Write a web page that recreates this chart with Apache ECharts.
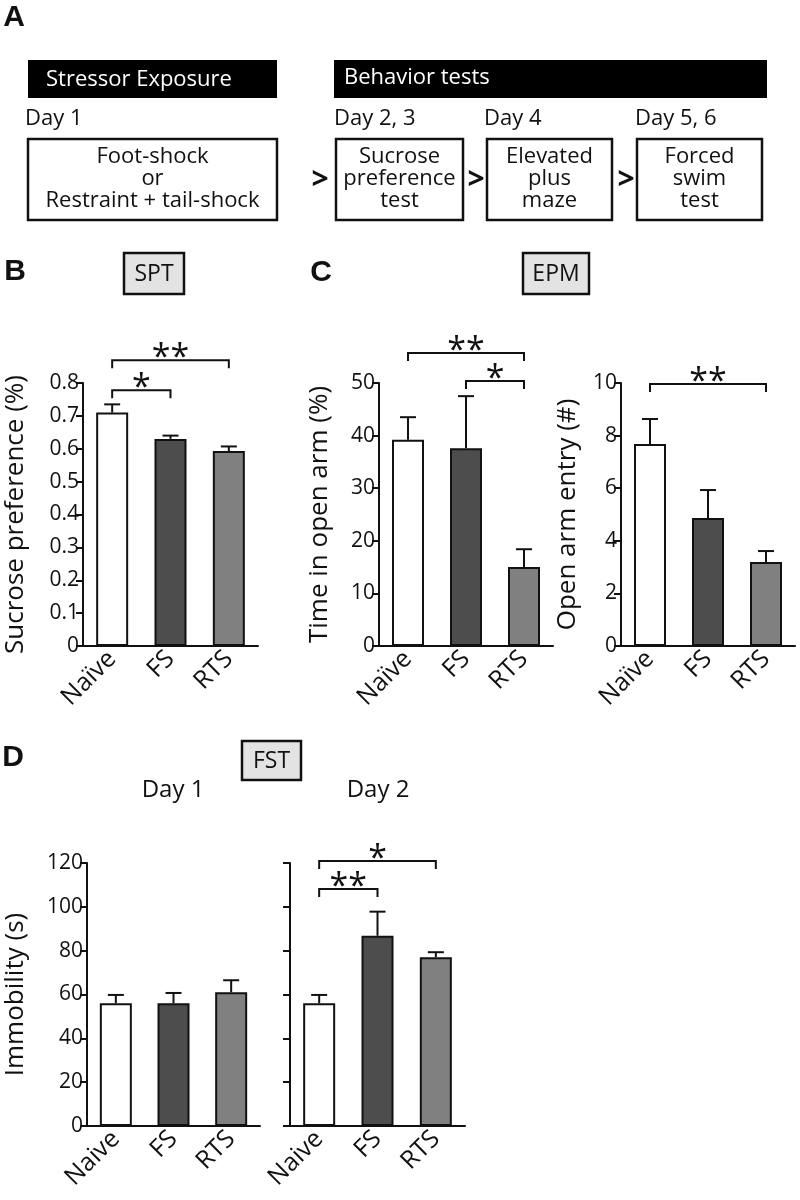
<!DOCTYPE html>
<html><head><meta charset="utf-8">
<script src="https://cdn.jsdelivr.net/npm/echarts@6/dist/echarts.min.js"></script>
<style>html,body{margin:0;padding:0;background:#fff}#c{width:800px;height:1200px}</style>
</head><body><div id="c"></div>
<script>
// ---- data ----
const groupsBC = ['Naïve', 'FS', 'RTS'];
const groupsD = ['Naive', 'FS', 'RTS'];
const barColors = ['#ffffff', '#4d4d4d', '#808080'];

const sptMean = [0.71, 0.63, 0.593];
const sptErr = [0.025, 0.01, 0.014];
const epmTimeMean = [39.2, 37.6, 15.0];
const epmTimeErr = [4.3, 9.9, 3.4];
const epmEntryMean = [7.68, 4.87, 3.19];
const epmEntryErr = [0.95, 1.06, 0.42];
const fstDay1Mean = [56, 56, 61];
const fstDay1Err = [3.8, 4.7, 5.5];
const fstDay2Mean = [56, 86.8, 77.0];
const fstDay2Err = [3.8, 11.0, 2.3];

// significance brackets: [fromIndex, toIndex, level]
const sptBrackets = [[0, 1, 0.778], [0, 2, 0.869]];
const sptStars = ['*', '**'];
const epmTimeBrackets = [[0, 2, 55.7], [1, 2, 50.4]];
const epmTimeStars = ['**', '*'];
const epmEntryBrackets = [[0, 2, 9.96]];
const epmEntryStars = ['**'];
const fstDay2Brackets = [[0, 1, 108.1], [0, 2, 120.9]];
const fstDay2Stars = ['**', '*'];

const FONT = '"Open Sans", Lato, sans-serif';

const grids = [
  {left: 83, top: 383, width: 175, height: 263},
  {left: 379, top: 383, width: 174, height: 263},
  {left: 621, top: 383, width: 174, height: 263},
  {left: 87, top: 863, width: 173, height: 263},
  {left: 290, top: 863, width: 175, height: 263}
];

function xAxis(idx, cats) {
  return {
    type: 'category', gridIndex: idx, data: cats,
    axisLine: {lineStyle: {color: '#111', width: 2}},
    axisTick: {length: 8, lineStyle: {color: '#111', width: 2}},
    axisLabel: {rotate: 45, fontSize: 25, color: '#111', fontFamily: FONT, margin: 9}
  };
}
function yAxis(idx, max, interval, name, gap, showLabels, decimals) {
  return {
    type: 'value', gridIndex: idx, min: 0, max: max, interval: interval,
    name: name, nameLocation: 'middle', nameGap: gap, nameRotate: 90,
    nameTextStyle: {fontSize: 26, color: '#111', fontFamily: FONT},
    axisLine: {show: true, lineStyle: {color: '#111', width: 2}},
    axisTick: {show: true, length: 7, lineStyle: {color: '#111', width: 2}},
    axisLabel: {show: showLabels, fontSize: 21, color: '#111', fontFamily: FONT, margin: 4,
      formatter: v => (v === 0 ? '0' : (decimals ? v.toFixed(decimals) : String(v)))},
    splitLine: {show: false}
  };
}

function barSeries(idx, means) {
  return {
    type: 'bar', xAxisIndex: idx, yAxisIndex: idx, barWidth: 32,
    data: means.map((v, i) => ({value: v, itemStyle: {color: barColors[i], borderColor: '#111', borderWidth: 2}})),
    z: 2, silent: true
  };
}
function errSeries(idx, means, errs) {
  return {
    type: 'custom', xAxisIndex: idx, yAxisIndex: idx, z: 3, silent: true, clip: false,
    encode: {x: 0, y: 1},
    data: means.map((v, i) => [i, v, errs[i]]),
    renderItem: function (params, api) {
      const base = api.coord([api.value(0), api.value(1)]);
      const top = api.coord([api.value(0), api.value(1) + api.value(2)]);
      const st = {stroke: '#111', lineWidth: 2};
      return {type: 'group', children: [
        {type: 'line', shape: {x1: base[0], y1: base[1], x2: top[0], y2: top[1]}, style: st},
        {type: 'line', shape: {x1: top[0] - 8, y1: top[1], x2: top[0] + 8, y2: top[1]}, style: st}
      ]};
    }
  };
}
function bracketSeries(idx, brackets, stars) {
  return {
    type: 'custom', xAxisIndex: idx, yAxisIndex: idx, z: 4, silent: true, clip: false,
    encode: {x: 0, y: 2},
    data: brackets,
    renderItem: function (params, api) {
      const p1 = api.coord([api.value(0), api.value(2)]);
      const p2 = api.coord([api.value(1), api.value(2)]);
      const st = {stroke: '#111', lineWidth: 2, fill: null};
      return {type: 'group', children: [
        {type: 'polyline', shape: {points: [[p1[0], p1[1] + 8], [p1[0], p1[1]], [p2[0], p2[1]], [p2[0], p2[1] + 8]]}, style: st},
        {type: 'text', style: {text: stars[params.dataIndex], x: (p1[0] + p2[0]) / 2, y: p1[1] - 2,
          textAlign: 'center', textVerticalAlign: 'middle', fontSize: 34, fontFamily: FONT, fill: '#111'}}
      ]};
    }
  };
}

// ---- panel A and annotations ----
const g = [];
function txt(t, x, y, opt) {
  g.push(Object.assign({type: 'text', style: Object.assign({text: t, x: x, y: y, fill: '#111',
    fontSize: 22, fontFamily: FONT, textAlign: 'left', textVerticalAlign: 'middle'}, opt || {})}));
}
function rect(x, y, w, h, fill, stroke) {
  g.push({type: 'rect', shape: {x: x, y: y, width: w, height: h},
    style: {fill: fill, stroke: stroke || null, lineWidth: stroke ? 2.5 : 0}});
}
function letter(t, x, y) {
  txt(t, x, y, {fontSize: 30, fontWeight: 'bold', fontFamily: 'Liberation Sans, Arial, sans-serif', textAlign: 'center'});
}
letter('A', 14, 18);
rect(28, 60, 249, 38, '#000');
txt('Stressor Exposure', 46, 80, {fill: '#fff', fontSize: 22});
rect(334, 60, 433, 38, '#000');
txt('Behavior tests', 344, 78, {fill: '#fff', fontSize: 22});
txt('Day 1', 25, 119, {fontSize: 22});
txt('Day 2, 3', 334, 119, {fontSize: 22});
txt('Day 4', 484, 119, {fontSize: 22});
txt('Day 5, 6', 635, 119, {fontSize: 22});
const boxes = [
  [28, 139, 249, 81, ['Foot-shock', 'or', 'Restraint + tail-shock']],
  [336, 139, 127, 81, ['Sucrose', 'preference', 'test']],
  [487, 139, 125, 81, ['Elevated', 'plus', 'maze']],
  [637, 139, 125, 81, ['Forced', 'swim', 'test']]
];
boxes.forEach(b => {
  rect(b[0], b[1], b[2], b[3], '#fff', '#111');
  b[4].forEach((l, i) => txt(l, b[0] + b[2] / 2, 157 + i * 22, {textAlign: 'center', fontSize: 22}));
});
[320, 476, 626].forEach(x => txt('>', x, 180, {textAlign: 'center', fontSize: 30, fontWeight: 'bold'}));

letter('B', 15, 272);
rect(124, 253, 60, 41, '#e3e3e3', '#111');
txt('SPT', 154, 274, {textAlign: 'center', fontSize: 23});
letter('C', 321, 273);
rect(523, 253, 66, 41, '#e3e3e3', '#111');
txt('EPM', 556, 274, {textAlign: 'center', fontSize: 23});
letter('D', 13, 758);
rect(242, 741, 59, 39, '#e3e3e3', '#111');
txt('FST', 271.5, 761, {textAlign: 'center', fontSize: 23});
txt('Day 1', 173, 790, {textAlign: 'center', fontSize: 24});
txt('Day 2', 378, 790, {textAlign: 'center', fontSize: 24});

const option = {
  backgroundColor: '#fff',
  animation: false,
  grid: grids,
  xAxis: [xAxis(0, groupsBC), xAxis(1, groupsBC), xAxis(2, groupsBC), xAxis(3, groupsD), xAxis(4, groupsD)],
  yAxis: [
    yAxis(0, 0.8, 0.1, 'Sucrose preference (%)', 54, true, 1),
    yAxis(1, 50, 10, 'Time in open arm (%)', 46, true, 0),
    yAxis(2, 10, 2, 'Open arm entry (#)', 40, true, 0),
    yAxis(3, 120, 20, 'Immobility (s)', 58, true, 0),
    yAxis(4, 120, 20, '', 10, false, 0)
  ],
  series: [
    barSeries(0, sptMean), errSeries(0, sptMean, sptErr), bracketSeries(0, sptBrackets, sptStars),
    barSeries(1, epmTimeMean), errSeries(1, epmTimeMean, epmTimeErr), bracketSeries(1, epmTimeBrackets, epmTimeStars),
    barSeries(2, epmEntryMean), errSeries(2, epmEntryMean, epmEntryErr), bracketSeries(2, epmEntryBrackets, epmEntryStars),
    barSeries(3, fstDay1Mean), errSeries(3, fstDay1Mean, fstDay1Err),
    barSeries(4, fstDay2Mean), errSeries(4, fstDay2Mean, fstDay2Err), bracketSeries(4, fstDay2Brackets, fstDay2Stars)
  ],
  graphic: g
};
const chart = echarts.init(document.getElementById('c'), null, {renderer: 'canvas'});
chart.setOption(option);
</script>
</body></html>
